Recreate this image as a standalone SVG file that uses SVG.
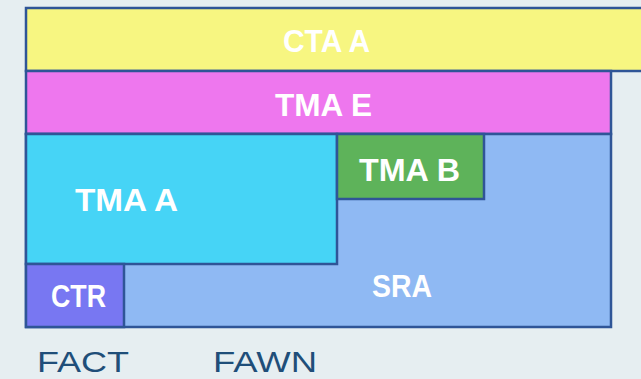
<svg xmlns="http://www.w3.org/2000/svg" width="641" height="379" viewBox="0 0 641 379">
<style>
.b{stroke:#2F5597;stroke-width:2.5}
.t{font-family:"Liberation Sans",Arial,sans-serif;font-weight:bold;font-size:31px;fill:#fff;text-anchor:middle}
.l{font-family:"Liberation Sans",Arial,sans-serif;font-size:30px;fill:#1F4E79}
</style>
<rect width="641" height="379" fill="#E6EEF1"/>
<g id="cta-a"><rect class="b" x="26" y="8" width="620" height="63" fill="#F7F681"/><text class="t" x="326.5" y="52" textLength="87" lengthAdjust="spacingAndGlyphs">CTA A</text></g>
<g id="tma-e"><rect class="b" x="26" y="71" width="585" height="63" fill="#EE77EE"/><text class="t" x="323.5" y="116" textLength="97" lengthAdjust="spacingAndGlyphs">TMA E</text></g>
<g id="sra"><rect class="b" x="26" y="134" width="585" height="193" fill="#8FB9F3"/><text class="t" x="402" y="297" textLength="60" lengthAdjust="spacingAndGlyphs">SRA</text></g>
<g id="tma-a"><rect class="b" x="26" y="134" width="311" height="130" fill="#46D4F6"/><text class="t" x="126.5" y="211" textLength="103" lengthAdjust="spacingAndGlyphs">TMA A</text></g>
<g id="tma-b"><rect class="b" x="337" y="134" width="147" height="65" fill="#5EB35A"/><text class="t" x="409.5" y="181" textLength="101" lengthAdjust="spacingAndGlyphs">TMA B</text></g>
<g id="ctr"><rect class="b" x="26" y="264" width="98" height="63" fill="#7877F2"/><text class="t" x="78.5" y="307" textLength="55" lengthAdjust="spacingAndGlyphs">CTR</text></g>
<g id="labels"><text class="l" x="37" y="372" textLength="92" lengthAdjust="spacingAndGlyphs">FACT</text><text class="l" x="213" y="372" textLength="104" lengthAdjust="spacingAndGlyphs">FAWN</text></g>
<g id="connectors"/>
</svg>
